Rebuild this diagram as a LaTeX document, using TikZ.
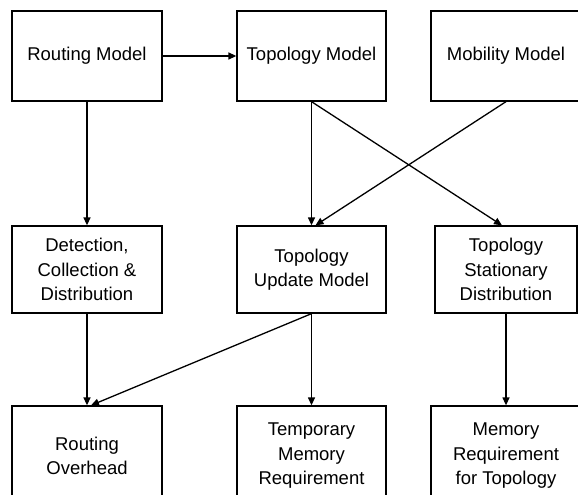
\documentclass[tikz,border=0pt]{standalone}
\usepackage{fontspec}
\setmainfont{Liberation Sans}
\usetikzlibrary{arrows.meta}
\begin{document}
\begin{tikzpicture}[x=1pt,y=-1pt,
  box/.style={draw,line width=1.3pt,rectangle,inner sep=0pt,align=center,
    font=\fontsize{18.5}{24.5}\selectfont,minimum width=150pt},
  toprow/.style={box,minimum height=90pt},
  midrow/.style={box,minimum height=87pt},
  botrow/.style={box,minimum height=100pt},
  conn/.style={line width=1.3pt,-{Triangle[length=8pt,width=7pt]}}]
\useasboundingbox (0,0) rectangle (578,495);
\node[toprow] (rm) at (87,56) {Routing Model};
\node[toprow,minimum width=149pt] (tm) at (311.5,56) {Topology Model};
\node[toprow] (mm) at (506,56) {Mobility Model};
\node[midrow] (dc) at (87,269.5) {Detection,\\Collection \&\\Distribution};
\node[midrow,minimum width=149pt] (tu) at (311.5,269.5) {Topology\\Update Model};
\node[midrow,minimum width=142pt] (ts) at (506,269.5) {Topology\\Stationary\\Distribution};
\node[botrow] (ro) at (87,456) {Routing\\Overhead};
\node[botrow,minimum width=149pt] (tr) at (311.5,456) {Temporary\\Memory\\Requirement};
\node[botrow] (mr) at (506,456) {Memory\\Requirement\\for Topology};
\draw[conn] (rm.east) -- (tm.west);
\draw[conn] (rm.south) -- (dc.north);
\draw[conn] (tm.south) -- (tu.north);
\draw[conn] (tm.south) -- ([xshift=-4pt]ts.north);
\draw[conn] (mm.south) -- ([xshift=4pt]tu.north);
\draw[conn] (dc.south) -- (ro.north);
\draw[conn] (tu.south) -- ([xshift=4pt]ro.north);
\draw[conn] (tu.south) -- (tr.north);
\draw[conn] (ts.south) -- (mr.north);
\end{tikzpicture}
\end{document}
